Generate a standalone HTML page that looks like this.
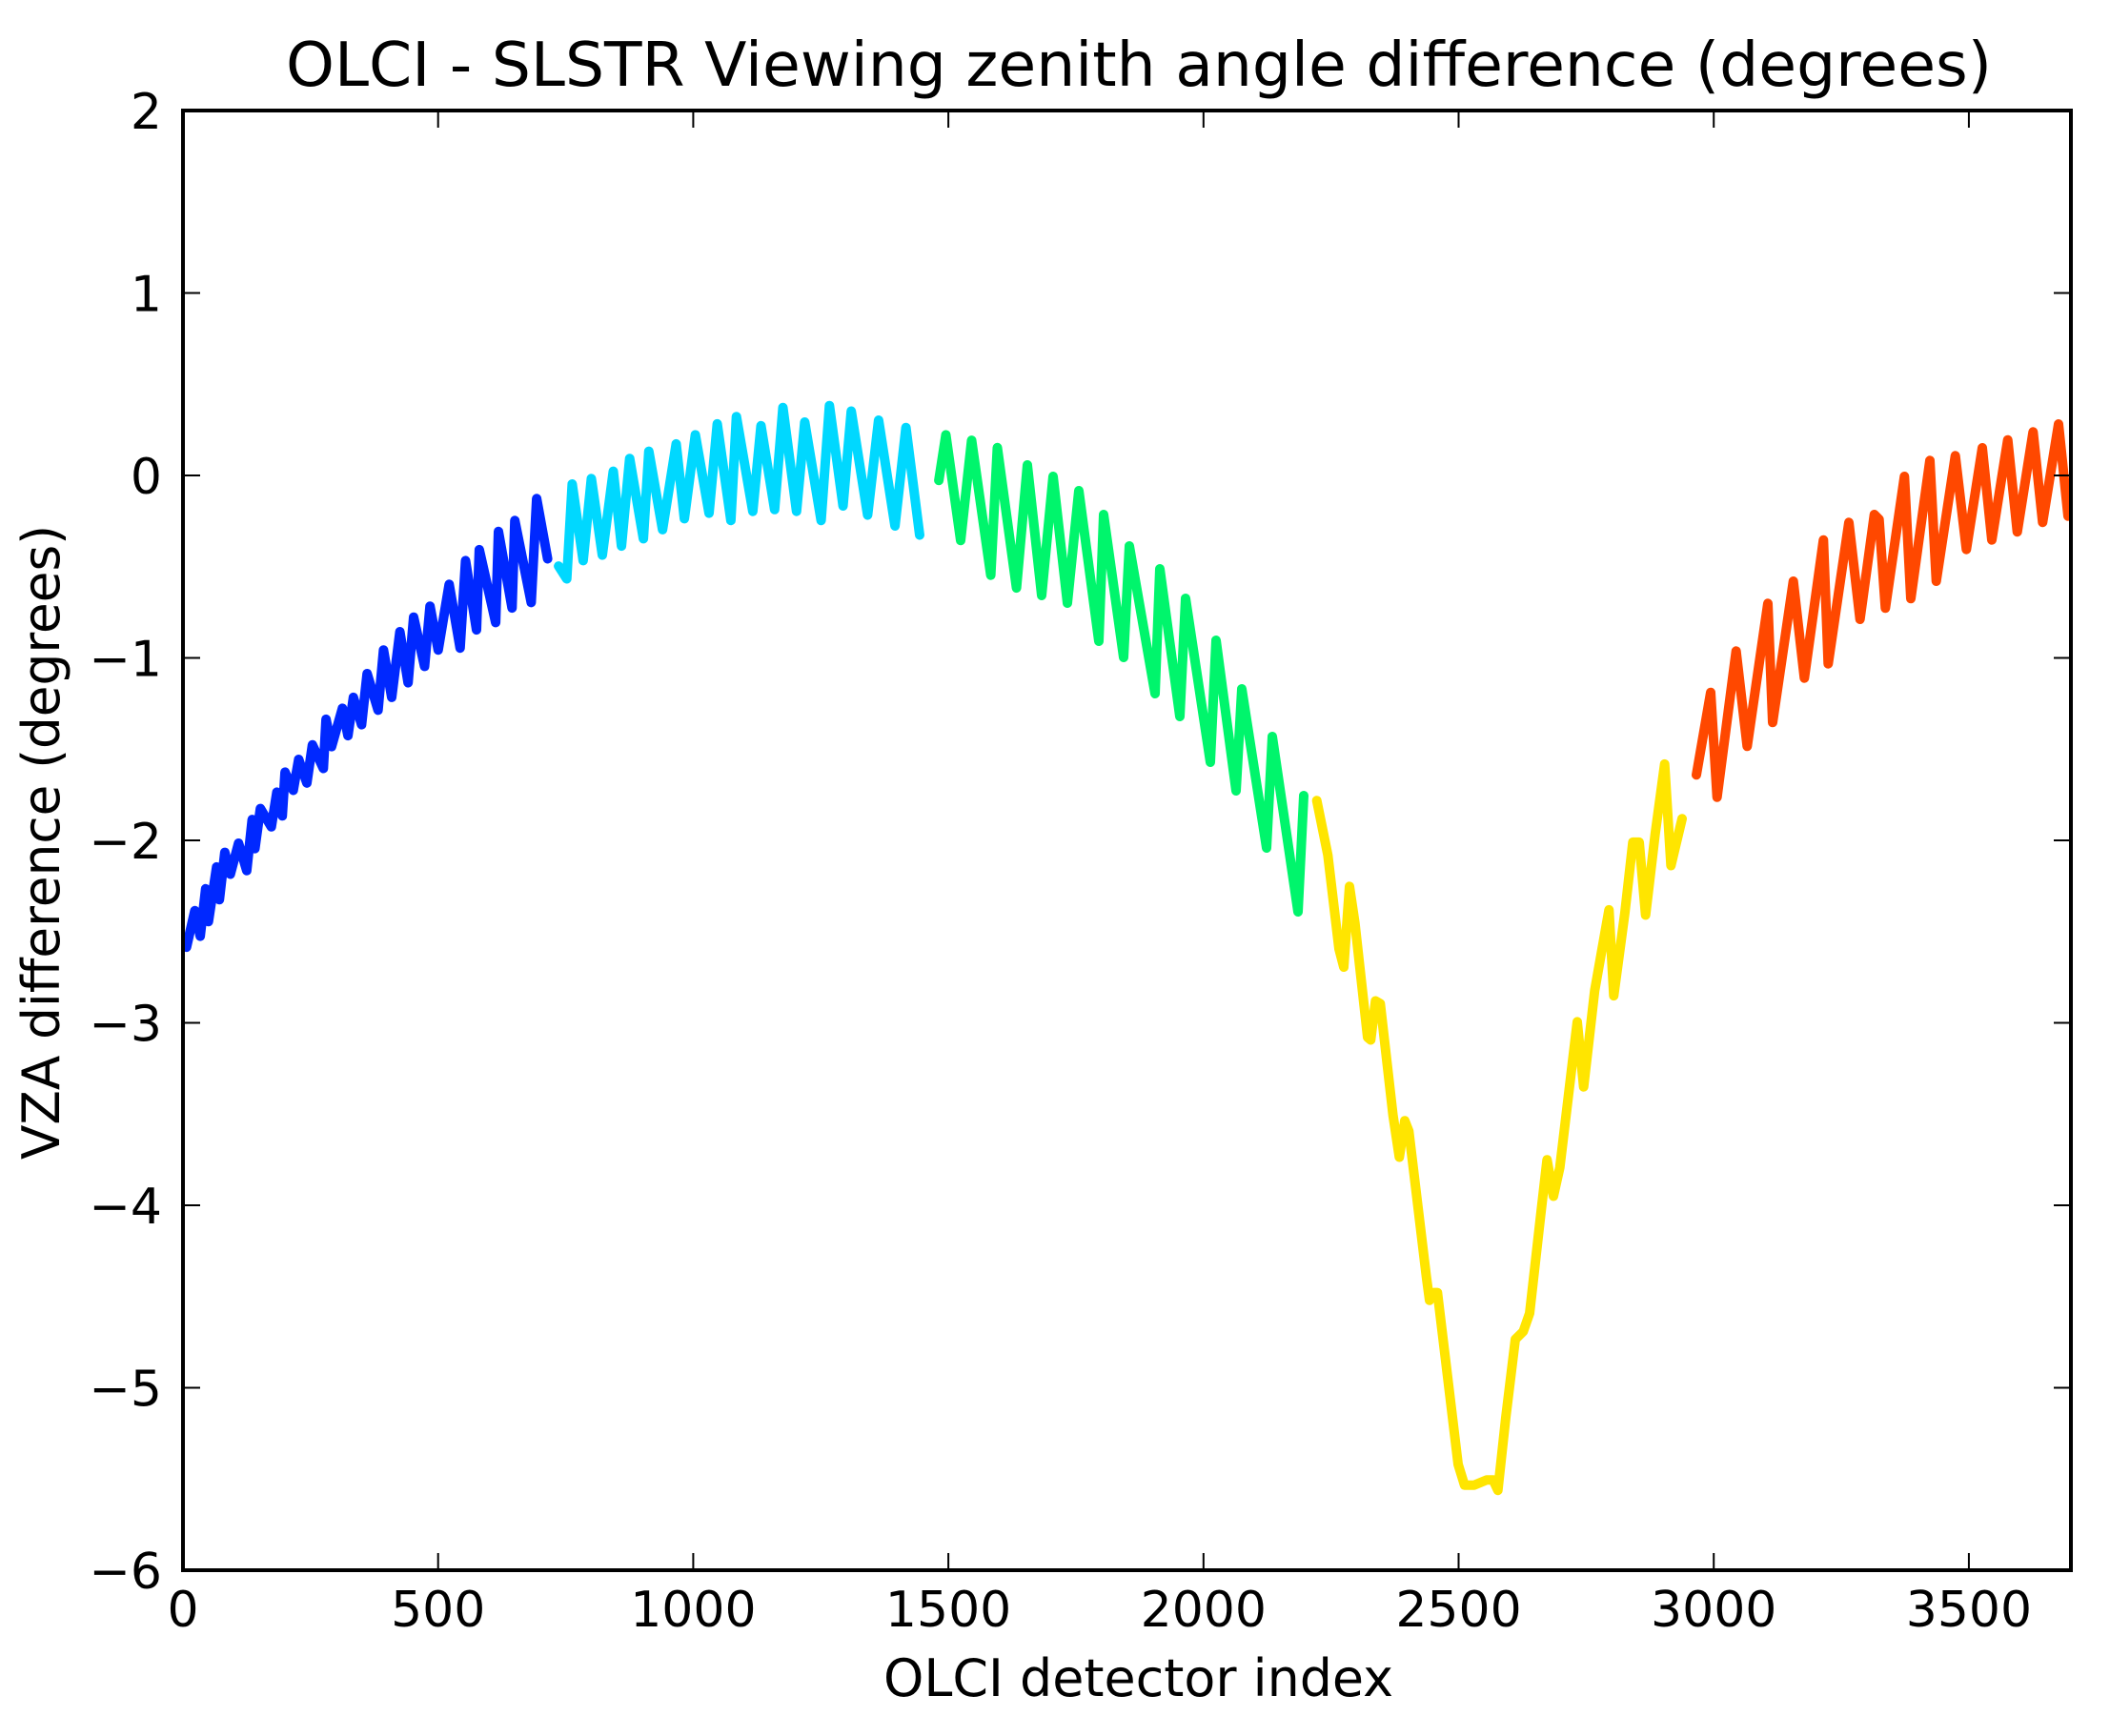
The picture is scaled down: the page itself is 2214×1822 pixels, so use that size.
<!DOCTYPE html>
<html><head><meta charset="utf-8"><style>html,body{margin:0;padding:0;background:#fff}svg{display:block}</style></head>
<body>
<svg id="s" width="2214" height="1822" viewBox="0 0 2214 1822" xmlns="http://www.w3.org/2000/svg" font-family="DejaVu Sans, Liberation Sans, sans-serif">
<rect width="2214" height="1822" fill="#fff"/>
<g id="lines" fill="none" stroke-width="10" stroke-linejoin="round" stroke-linecap="round"></g>
<rect x="192" y="116" width="1981" height="1532" fill="none" stroke="#000" stroke-width="4"/>
<g id="ticks" stroke="#000" stroke-width="2"></g>
<g id="labels" font-size="52" fill="#000"></g>
<text x="300" y="90" font-size="64" textLength="1790" lengthAdjust="spacingAndGlyphs">OLCI - SLSTR Viewing zenith angle difference (degrees)</text>
<text x="927" y="1780" font-size="54" textLength="535" lengthAdjust="spacingAndGlyphs">OLCI detector index</text>
<text transform="translate(62,1217) rotate(-90)" font-size="54" textLength="666" lengthAdjust="spacingAndGlyphs">VZA difference (degrees)</text>
</svg>
<script>
var NS="http://www.w3.org/2000/svg";
function add(par,tag,attrs,txt){var e=document.createElementNS(NS,tag);for(var k in attrs)e.setAttribute(k,attrs[k]);if(txt!=null)e.textContent=txt;document.getElementById(par).appendChild(e);return e;}
var X0=192,X1=2173,Y0=1648,Y1=116;
function xp(v){return X0+v*(X1-X0)/3700;}
function yp(v){return 499-v*191.5;}
for(var i=0;i<=3500;i+=500){var x=xp(i);
 add("ticks","line",{x1:x,y1:Y0,x2:x,y2:Y0-18});add("ticks","line",{x1:x,y1:Y1,x2:x,y2:Y1+18});
 add("labels","text",{x:x,y:1707,"text-anchor":"middle"},String(i));}
for(var v=-6;v<=2;v++){var y=yp(v);
 add("ticks","line",{x1:X0,y1:y,x2:X0+18,y2:y});add("ticks","line",{x1:X1,y1:y,x2:X1-18,y2:y});
 add("labels","text",{x:170,y:y+19,"text-anchor":"end"},(v<0?"\u2212":"")+Math.abs(v));}
function pl(pts,col){add("lines","polyline",{points:pts.map(function(p){return p[0].toFixed(1)+","+p[1].toFixed(1)}).join(" "),stroke:col});}
function z5(a){return a.map(function(p){return [190+p[0]/1.742,420+p[1]/2.613]});}
var bp=[[25,1400],[45,1340],[65,1280],[80,1240],[105,1215],[130,1150],[145,1120],[175,1075],[190,1020],[215,985],[240,945],[265,875],[295,845],[315,815],[340,750],[370,685],[400,635],[425,595],[455,565],[490,505],[520,440],[545,410],[580,360],[610,330],[650,270]];
var bt=[[35,1470],[50,1430],[70,1370],[90,1300],[120,1290],[135,1230],[165,1170],[185,1140],[205,1070],[230,1050],[260,1010],[275,950],[305,920],[330,890],[360,850],[385,815],[415,775],[445,730],[470,685],[510,680],[540,630],[575,610],[605,570],[640,555],[670,435]];
var b=[[10,1500]];for(var i=0;i<bp.length;i++){b.push(bp[i]);b.push(bt[i]);}
pl(z5(b),"#0028ff");
pl(z5([[690,455],[705,490],[715,230],[735,440],[750,215],[770,425],[790,195],[805,400],[820,160],[845,380],[855,140],[880,355],[905,120],[920,325],[940,95],[965,310],[980,65],[1005,330],[1015,45],[1045,305],[1060,70],[1085,300],[1100,20],[1125,305],[1140,60],[1170,330],[1185,15],[1210,290],[1225,30],[1255,315],[1275,55],[1305,345],[1325,75],[1350,370]]),"#00d8ff");
var g=z5([[1385,220],[1398,95],[1425,385],[1445,110],[1480,480],[1492,130],[1527,515]]);
g=g.concat([[1078,488],[1093,625],[1105,500],[1120,633],[1132,515],[1153,673],[1158,540],[1179,690],[1185,573],[1212,728],[1217,597],[1238,752],[1244,628],[1270,800],[1276,672],[1297,830],[1303,723],[1329,890],[1335,773],[1362,957],[1368,835]]);
pl(g,"#00f56c");
var yl=[[95,165],[130,270],[165,450],[180,485],[198,330],[215,400],[255,620],[265,625],[280,550],[295,555],[335,770],[355,850],[372,780],[385,800],[440,1080],[450,1125],[465,1110],[475,1110],[540,1440],[560,1480],[590,1480],[630,1470],[650,1470],[665,1490],[690,1350],[720,1200],[745,1185],[765,1150],[800,960],[820,855],[840,925],[860,870],[915,590],[935,715],[970,530],[1015,375],[1030,540],[1065,380],[1090,245],[1110,245],[1130,385],[1160,230],[1190,95],[1210,290],[1245,200]];
pl(yl.map(function(p){return [1350+p[0]/3,750+p[1]/1.83]}),"#ffe500");
var rd=[[0,1180],[45,920],[65,1250],[125,790],[160,1090],[225,640],[240,1015],[305,570],[340,875],[400,440],[415,830],[480,385],[515,690],[560,360],[575,375],[595,655],[655,240],[675,625],[735,190],[755,570],[815,175],[850,470],[900,150],[930,440],[980,125],[1010,415],[1060,100],[1090,385],[1140,75],[1170,365]];
pl(rd.map(function(p){return [1780+p[0]/3,420+p[1]/3]}),"#ff4800");
</script>
</body></html>
